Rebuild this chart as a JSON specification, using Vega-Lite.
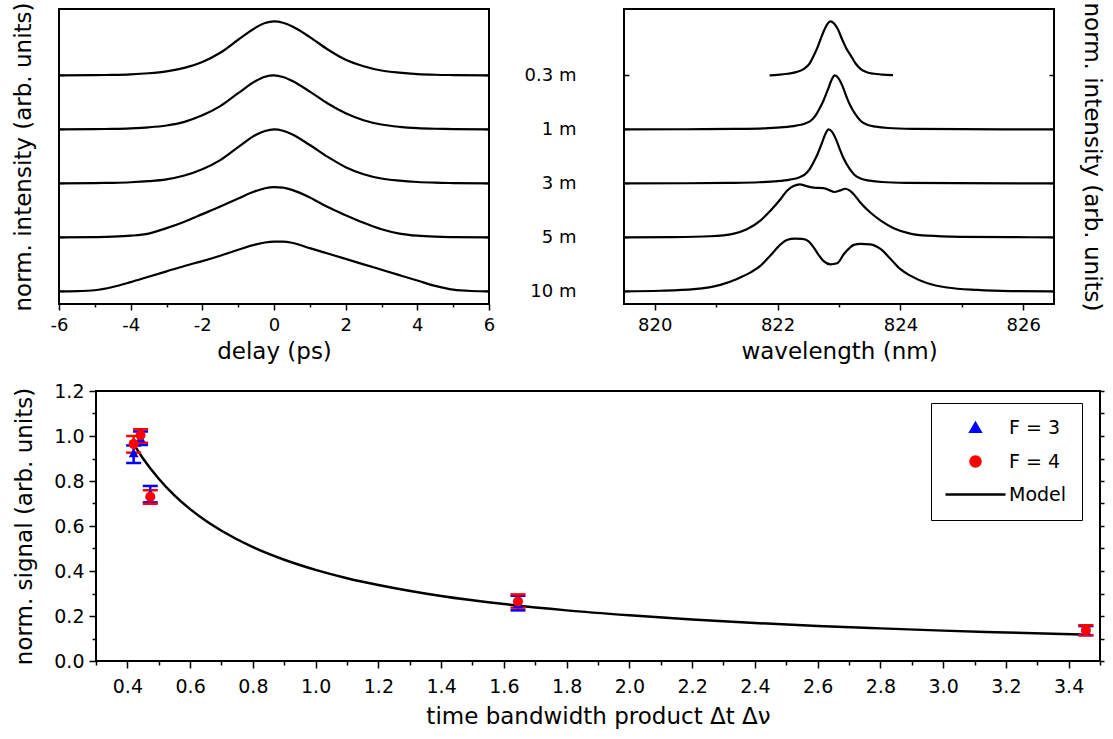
{
  "$schema": "https://vega.github.io/schema/vega-lite/v6.json",
  "padding": {"left": 11, "top": 0, "right": 0, "bottom": 0},
  "datasets": {
    "delay": [
      {"trace": "0.3 m", "t": -6, "y": 4}, {"trace": "0.3 m", "t": -5, "y": 4.005}, {"trace": "0.3 m", "t": -4.5, "y": 4.01}, {"trace": "0.3 m", "t": -4, "y": 4.02}, {"trace": "0.3 m", "t": -3.5, "y": 4.04}, {"trace": "0.3 m", "t": -3, "y": 4.075}, {"trace": "0.3 m", "t": -2.5, "y": 4.14}, {"trace": "0.3 m", "t": -2, "y": 4.25}, {"trace": "0.3 m", "t": -1.5, "y": 4.42}, {"trace": "0.3 m", "t": -1, "y": 4.66}, {"trace": "0.3 m", "t": -0.5, "y": 4.89}, {"trace": "0.3 m", "t": -0.25, "y": 4.97}, {"trace": "0.3 m", "t": 0, "y": 5.0}, {"trace": "0.3 m", "t": 0.25, "y": 4.975}, {"trace": "0.3 m", "t": 0.5, "y": 4.91}, {"trace": "0.3 m", "t": 1, "y": 4.71}, {"trace": "0.3 m", "t": 1.5, "y": 4.48}, {"trace": "0.3 m", "t": 2, "y": 4.29}, {"trace": "0.3 m", "t": 2.5, "y": 4.17}, {"trace": "0.3 m", "t": 3, "y": 4.09}, {"trace": "0.3 m", "t": 3.5, "y": 4.05}, {"trace": "0.3 m", "t": 4, "y": 4.025}, {"trace": "0.3 m", "t": 4.5, "y": 4.012}, {"trace": "0.3 m", "t": 5, "y": 4.006}, {"trace": "0.3 m", "t": 6, "y": 4},
      {"trace": "1 m", "t": -6, "y": 3}, {"trace": "1 m", "t": -5, "y": 3.005}, {"trace": "1 m", "t": -4.5, "y": 3.01}, {"trace": "1 m", "t": -4, "y": 3.02}, {"trace": "1 m", "t": -3.5, "y": 3.038}, {"trace": "1 m", "t": -3, "y": 3.072}, {"trace": "1 m", "t": -2.5, "y": 3.14}, {"trace": "1 m", "t": -2, "y": 3.26}, {"trace": "1 m", "t": -1.5, "y": 3.43}, {"trace": "1 m", "t": -1, "y": 3.67}, {"trace": "1 m", "t": -0.5, "y": 3.9}, {"trace": "1 m", "t": -0.25, "y": 3.975}, {"trace": "1 m", "t": 0, "y": 4.0}, {"trace": "1 m", "t": 0.25, "y": 3.97}, {"trace": "1 m", "t": 0.5, "y": 3.9}, {"trace": "1 m", "t": 1, "y": 3.7}, {"trace": "1 m", "t": 1.5, "y": 3.48}, {"trace": "1 m", "t": 2, "y": 3.3}, {"trace": "1 m", "t": 2.5, "y": 3.17}, {"trace": "1 m", "t": 3, "y": 3.09}, {"trace": "1 m", "t": 3.5, "y": 3.048}, {"trace": "1 m", "t": 4, "y": 3.024}, {"trace": "1 m", "t": 4.5, "y": 3.012}, {"trace": "1 m", "t": 5, "y": 3.006}, {"trace": "1 m", "t": 6, "y": 3},
      {"trace": "3 m", "t": -6, "y": 2}, {"trace": "3 m", "t": -5, "y": 2.005}, {"trace": "3 m", "t": -4.5, "y": 2.01}, {"trace": "3 m", "t": -4, "y": 2.02}, {"trace": "3 m", "t": -3.5, "y": 2.04}, {"trace": "3 m", "t": -3, "y": 2.075}, {"trace": "3 m", "t": -2.5, "y": 2.145}, {"trace": "3 m", "t": -2, "y": 2.26}, {"trace": "3 m", "t": -1.5, "y": 2.43}, {"trace": "3 m", "t": -1, "y": 2.67}, {"trace": "3 m", "t": -0.5, "y": 2.9}, {"trace": "3 m", "t": -0.25, "y": 2.97}, {"trace": "3 m", "t": 0, "y": 3.0}, {"trace": "3 m", "t": 0.25, "y": 2.975}, {"trace": "3 m", "t": 0.5, "y": 2.91}, {"trace": "3 m", "t": 1, "y": 2.71}, {"trace": "3 m", "t": 1.5, "y": 2.49}, {"trace": "3 m", "t": 2, "y": 2.3}, {"trace": "3 m", "t": 2.5, "y": 2.17}, {"trace": "3 m", "t": 3, "y": 2.09}, {"trace": "3 m", "t": 3.5, "y": 2.05}, {"trace": "3 m", "t": 4, "y": 2.025}, {"trace": "3 m", "t": 4.5, "y": 2.012}, {"trace": "3 m", "t": 5, "y": 2.006}, {"trace": "3 m", "t": 6, "y": 2},
      {"trace": "5 m", "t": -6, "y": 1}, {"trace": "5 m", "t": -5, "y": 1.005}, {"trace": "5 m", "t": -4.5, "y": 1.012}, {"trace": "5 m", "t": -4, "y": 1.03}, {"trace": "5 m", "t": -3.5, "y": 1.07}, {"trace": "5 m", "t": -3, "y": 1.17}, {"trace": "5 m", "t": -2.5, "y": 1.29}, {"trace": "5 m", "t": -2, "y": 1.43}, {"trace": "5 m", "t": -1.5, "y": 1.57}, {"trace": "5 m", "t": -1, "y": 1.72}, {"trace": "5 m", "t": -0.5, "y": 1.86}, {"trace": "5 m", "t": -0.25, "y": 1.91}, {"trace": "5 m", "t": 0, "y": 1.93}, {"trace": "5 m", "t": 0.25, "y": 1.92}, {"trace": "5 m", "t": 0.5, "y": 1.88}, {"trace": "5 m", "t": 1, "y": 1.74}, {"trace": "5 m", "t": 1.5, "y": 1.56}, {"trace": "5 m", "t": 2, "y": 1.41}, {"trace": "5 m", "t": 2.5, "y": 1.27}, {"trace": "5 m", "t": 3, "y": 1.15}, {"trace": "5 m", "t": 3.5, "y": 1.07}, {"trace": "5 m", "t": 4, "y": 1.03}, {"trace": "5 m", "t": 4.5, "y": 1.012}, {"trace": "5 m", "t": 5, "y": 1.005}, {"trace": "5 m", "t": 6, "y": 1},
      {"trace": "10 m", "t": -6, "y": 0}, {"trace": "10 m", "t": -5.5, "y": 0.004}, {"trace": "10 m", "t": -5, "y": 0.02}, {"trace": "10 m", "t": -4.5, "y": 0.08}, {"trace": "10 m", "t": -4, "y": 0.17}, {"trace": "10 m", "t": -3.5, "y": 0.27}, {"trace": "10 m", "t": -3, "y": 0.37}, {"trace": "10 m", "t": -2.5, "y": 0.47}, {"trace": "10 m", "t": -2, "y": 0.56}, {"trace": "10 m", "t": -1.5, "y": 0.66}, {"trace": "10 m", "t": -1, "y": 0.77}, {"trace": "10 m", "t": -0.5, "y": 0.87}, {"trace": "10 m", "t": -0.25, "y": 0.905}, {"trace": "10 m", "t": 0, "y": 0.92}, {"trace": "10 m", "t": 0.25, "y": 0.92}, {"trace": "10 m", "t": 0.5, "y": 0.9}, {"trace": "10 m", "t": 1, "y": 0.8}, {"trace": "10 m", "t": 1.5, "y": 0.7}, {"trace": "10 m", "t": 2, "y": 0.6}, {"trace": "10 m", "t": 2.5, "y": 0.5}, {"trace": "10 m", "t": 3, "y": 0.4}, {"trace": "10 m", "t": 3.5, "y": 0.3}, {"trace": "10 m", "t": 4, "y": 0.2}, {"trace": "10 m", "t": 4.5, "y": 0.1}, {"trace": "10 m", "t": 5, "y": 0.03}, {"trace": "10 m", "t": 5.5, "y": 0.006}, {"trace": "10 m", "t": 6, "y": 0}
    ],
    "spectra": [
      {"trace": "0.3 m", "w": 821.87, "y": 4.0}, {"trace": "0.3 m", "w": 822.0, "y": 4.01}, {"trace": "0.3 m", "w": 822.16, "y": 4.03}, {"trace": "0.3 m", "w": 822.3, "y": 4.06}, {"trace": "0.3 m", "w": 822.43, "y": 4.12}, {"trace": "0.3 m", "w": 822.52, "y": 4.22}, {"trace": "0.3 m", "w": 822.59, "y": 4.37}, {"trace": "0.3 m", "w": 822.65, "y": 4.52}, {"trace": "0.3 m", "w": 822.7, "y": 4.67}, {"trace": "0.3 m", "w": 822.76, "y": 4.84}, {"trace": "0.3 m", "w": 822.81, "y": 4.95}, {"trace": "0.3 m", "w": 822.86, "y": 5.0}, {"trace": "0.3 m", "w": 822.92, "y": 4.96}, {"trace": "0.3 m", "w": 822.98, "y": 4.86}, {"trace": "0.3 m", "w": 823.05, "y": 4.67}, {"trace": "0.3 m", "w": 823.12, "y": 4.5}, {"trace": "0.3 m", "w": 823.19, "y": 4.37}, {"trace": "0.3 m", "w": 823.27, "y": 4.22}, {"trace": "0.3 m", "w": 823.35, "y": 4.12}, {"trace": "0.3 m", "w": 823.45, "y": 4.06}, {"trace": "0.3 m", "w": 823.57, "y": 4.03}, {"trace": "0.3 m", "w": 823.7, "y": 4.015}, {"trace": "0.3 m", "w": 823.88, "y": 4.005},
      {"trace": "1 m", "w": 819.5, "y": 3}, {"trace": "1 m", "w": 820.5, "y": 3.002}, {"trace": "1 m", "w": 821.3, "y": 3.008}, {"trace": "1 m", "w": 821.8, "y": 3.02}, {"trace": "1 m", "w": 822.1, "y": 3.04}, {"trace": "1 m", "w": 822.3, "y": 3.07}, {"trace": "1 m", "w": 822.45, "y": 3.11}, {"trace": "1 m", "w": 822.54, "y": 3.16}, {"trace": "1 m", "w": 822.62, "y": 3.26}, {"trace": "1 m", "w": 822.69, "y": 3.4}, {"trace": "1 m", "w": 822.75, "y": 3.54}, {"trace": "1 m", "w": 822.82, "y": 3.74}, {"trace": "1 m", "w": 822.88, "y": 3.92}, {"trace": "1 m", "w": 822.93, "y": 4.0}, {"trace": "1 m", "w": 822.99, "y": 3.95}, {"trace": "1 m", "w": 823.05, "y": 3.82}, {"trace": "1 m", "w": 823.11, "y": 3.64}, {"trace": "1 m", "w": 823.18, "y": 3.45}, {"trace": "1 m", "w": 823.26, "y": 3.29}, {"trace": "1 m", "w": 823.35, "y": 3.16}, {"trace": "1 m", "w": 823.45, "y": 3.09}, {"trace": "1 m", "w": 823.6, "y": 3.05}, {"trace": "1 m", "w": 823.8, "y": 3.025}, {"trace": "1 m", "w": 824.2, "y": 3.01}, {"trace": "1 m", "w": 825.0, "y": 3.003}, {"trace": "1 m", "w": 826.5, "y": 3},
      {"trace": "3 m", "w": 819.5, "y": 2}, {"trace": "3 m", "w": 820.5, "y": 2.002}, {"trace": "3 m", "w": 821.2, "y": 2.008}, {"trace": "3 m", "w": 821.7, "y": 2.02}, {"trace": "3 m", "w": 822.0, "y": 2.04}, {"trace": "3 m", "w": 822.2, "y": 2.07}, {"trace": "3 m", "w": 822.35, "y": 2.11}, {"trace": "3 m", "w": 822.44, "y": 2.16}, {"trace": "3 m", "w": 822.52, "y": 2.26}, {"trace": "3 m", "w": 822.59, "y": 2.4}, {"trace": "3 m", "w": 822.65, "y": 2.54}, {"trace": "3 m", "w": 822.72, "y": 2.74}, {"trace": "3 m", "w": 822.78, "y": 2.92}, {"trace": "3 m", "w": 822.83, "y": 3.0}, {"trace": "3 m", "w": 822.89, "y": 2.95}, {"trace": "3 m", "w": 822.95, "y": 2.82}, {"trace": "3 m", "w": 823.01, "y": 2.64}, {"trace": "3 m", "w": 823.08, "y": 2.45}, {"trace": "3 m", "w": 823.16, "y": 2.29}, {"trace": "3 m", "w": 823.25, "y": 2.16}, {"trace": "3 m", "w": 823.35, "y": 2.09}, {"trace": "3 m", "w": 823.5, "y": 2.05}, {"trace": "3 m", "w": 823.7, "y": 2.025}, {"trace": "3 m", "w": 824.1, "y": 2.01}, {"trace": "3 m", "w": 824.9, "y": 2.003}, {"trace": "3 m", "w": 826.5, "y": 2},
      {"trace": "5 m", "w": 819.5, "y": 1}, {"trace": "5 m", "w": 820.3, "y": 1.005}, {"trace": "5 m", "w": 820.9, "y": 1.02}, {"trace": "5 m", "w": 821.29, "y": 1.07}, {"trace": "5 m", "w": 821.5, "y": 1.15}, {"trace": "5 m", "w": 821.72, "y": 1.31}, {"trace": "5 m", "w": 821.88, "y": 1.49}, {"trace": "5 m", "w": 822.05, "y": 1.71}, {"trace": "5 m", "w": 822.15, "y": 1.86}, {"trace": "5 m", "w": 822.26, "y": 1.95}, {"trace": "5 m", "w": 822.36, "y": 1.98}, {"trace": "5 m", "w": 822.47, "y": 1.95}, {"trace": "5 m", "w": 822.59, "y": 1.92}, {"trace": "5 m", "w": 822.75, "y": 1.91}, {"trace": "5 m", "w": 822.85, "y": 1.87}, {"trace": "5 m", "w": 822.92, "y": 1.84}, {"trace": "5 m", "w": 823.02, "y": 1.87}, {"trace": "5 m", "w": 823.1, "y": 1.9}, {"trace": "5 m", "w": 823.17, "y": 1.87}, {"trace": "5 m", "w": 823.24, "y": 1.8}, {"trace": "5 m", "w": 823.35, "y": 1.64}, {"trace": "5 m", "w": 823.51, "y": 1.46}, {"trace": "5 m", "w": 823.68, "y": 1.31}, {"trace": "5 m", "w": 823.89, "y": 1.17}, {"trace": "5 m", "w": 824.16, "y": 1.07}, {"trace": "5 m", "w": 824.44, "y": 1.03}, {"trace": "5 m", "w": 824.98, "y": 1.01}, {"trace": "5 m", "w": 825.8, "y": 1.003}, {"trace": "5 m", "w": 826.5, "y": 1},
      {"trace": "10 m", "w": 819.5, "y": 0}, {"trace": "10 m", "w": 820.09, "y": 0.01}, {"trace": "10 m", "w": 820.64, "y": 0.04}, {"trace": "10 m", "w": 821.07, "y": 0.12}, {"trace": "10 m", "w": 821.34, "y": 0.23}, {"trace": "10 m", "w": 821.56, "y": 0.35}, {"trace": "10 m", "w": 821.72, "y": 0.47}, {"trace": "10 m", "w": 821.88, "y": 0.66}, {"trace": "10 m", "w": 822.05, "y": 0.87}, {"trace": "10 m", "w": 822.15, "y": 0.95}, {"trace": "10 m", "w": 822.28, "y": 0.975}, {"trace": "10 m", "w": 822.4, "y": 0.97}, {"trace": "10 m", "w": 822.5, "y": 0.93}, {"trace": "10 m", "w": 822.59, "y": 0.81}, {"trace": "10 m", "w": 822.67, "y": 0.67}, {"trace": "10 m", "w": 822.75, "y": 0.56}, {"trace": "10 m", "w": 822.86, "y": 0.5}, {"trace": "10 m", "w": 822.97, "y": 0.52}, {"trace": "10 m", "w": 823.08, "y": 0.69}, {"trace": "10 m", "w": 823.16, "y": 0.79}, {"trace": "10 m", "w": 823.24, "y": 0.86}, {"trace": "10 m", "w": 823.35, "y": 0.88}, {"trace": "10 m", "w": 823.51, "y": 0.87}, {"trace": "10 m", "w": 823.68, "y": 0.78}, {"trace": "10 m", "w": 823.84, "y": 0.6}, {"trace": "10 m", "w": 824.0, "y": 0.41}, {"trace": "10 m", "w": 824.16, "y": 0.29}, {"trace": "10 m", "w": 824.44, "y": 0.15}, {"trace": "10 m", "w": 824.76, "y": 0.07}, {"trace": "10 m", "w": 825.25, "y": 0.025}, {"trace": "10 m", "w": 825.8, "y": 0.005}, {"trace": "10 m", "w": 826.5, "y": 0}
    ],
    "model": [
      {"x": 0.42, "y": 0.964}, {"x": 0.45, "y": 0.9}, {"x": 0.5, "y": 0.81}, {"x": 0.55, "y": 0.736}, {"x": 0.6, "y": 0.675}, {"x": 0.65, "y": 0.623}, {"x": 0.7, "y": 0.579}, {"x": 0.8, "y": 0.506}, {"x": 0.9, "y": 0.45}, {"x": 1.0, "y": 0.405}, {"x": 1.1, "y": 0.368}, {"x": 1.2, "y": 0.338}, {"x": 1.4, "y": 0.289}, {"x": 1.6, "y": 0.253}, {"x": 1.8, "y": 0.225}, {"x": 2.0, "y": 0.203}, {"x": 2.2, "y": 0.184}, {"x": 2.4, "y": 0.169}, {"x": 2.6, "y": 0.156}, {"x": 2.8, "y": 0.145}, {"x": 3.0, "y": 0.135}, {"x": 3.2, "y": 0.127}, {"x": 3.44, "y": 0.118}
    ],
    "points": [
      {"series": "F = 3", "x": 0.42, "y": 0.925, "lo": 0.88, "hi": 0.958},
      {"series": "F = 3", "x": 0.442, "y": 0.99, "lo": 0.96, "hi": 1.02},
      {"series": "F = 3", "x": 0.473, "y": 0.745, "lo": 0.705, "hi": 0.778},
      {"series": "F = 3", "x": 1.645, "y": 0.255, "lo": 0.225, "hi": 0.29},
      {"series": "F = 3", "x": 3.455, "y": 0.135, "lo": 0.115, "hi": 0.155},
      {"series": "F = 4", "x": 0.42, "y": 0.965, "lo": 0.926, "hi": 1.0},
      {"series": "F = 4", "x": 0.442, "y": 1.003, "lo": 0.97, "hi": 1.03},
      {"series": "F = 4", "x": 0.473, "y": 0.73, "lo": 0.699, "hi": 0.759},
      {"series": "F = 4", "x": 1.645, "y": 0.265, "lo": 0.237, "hi": 0.296},
      {"series": "F = 4", "x": 3.455, "y": 0.136, "lo": 0.114, "hi": 0.159}
    ]
  },
  "vconcat": [
    {
      "hconcat": [
        {
          "width": 430,
          "height": 295,
          "data": {"name": "delay"},
          "encoding": {
            "x": {"field": "t", "type": "quantitative", "scale": {"domain": [-6, 6], "nice": false, "zero": false},
              "axis": {"title": "delay (ps)", "values": [-6, -5, -4, -3, -2, -1, 0, 1, 2, 3, 4, 5, 6],
                "labelExpr": "datum.value % 2 == 0 ? (datum.value < 0 ? '-' + abs(datum.value) : '' + datum.value) : ''",
                "tickSize": {"condition": {"test": "datum.value % 2 != 0", "value": 3}, "value": 6},
                "labelPadding": 6, "titlePadding": 6}}
          },
          "layer": [
            {
              "mark": {"type": "line", "color": "black", "strokeWidth": 2.2, "interpolate": "monotone"},
              "encoding": {
                "detail": {"field": "trace"},
                "y": {"field": "y", "type": "quantitative", "scale": {"domain": [-0.235, 5.23], "nice": false, "zero": false},
                  "axis": {"orient": "left", "title": "norm. intensity (arb. units)", "labels": false, "values": [0, 1, 2, 3, 4], "tickSize": -5, "titlePadding": 23}}
              }
            },
            {
              "mark": {"type": "line", "color": "black", "strokeOpacity": 0},
              "encoding": {
                "detail": {"field": "trace"},
                "y": {"field": "y", "type": "quantitative", "scale": {"domain": [-0.235, 5.23], "nice": false, "zero": false},
                  "axis": {"orient": "right", "title": null, "labels": false, "values": [0, 1, 2, 3, 4], "tickSize": -5}}
              }
            }
          ],
          "resolve": {"axis": {"y": "independent"}}
        },
        {
          "width": 430,
          "height": 295,
          "data": {"name": "spectra"},
          "encoding": {
            "x": {"field": "w", "type": "quantitative", "scale": {"domain": [819.5, 826.5], "nice": false, "zero": false},
              "axis": {"title": "wavelength (nm)", "values": [820, 821, 822, 823, 824, 825, 826],
                "labelExpr": "datum.value % 2 == 0 ? '' + datum.value : ''",
                "tickSize": {"condition": {"test": "datum.value % 2 != 0", "value": 3}, "value": 6},
                "labelPadding": 6, "titlePadding": 6}}
          },
          "layer": [
            {
              "mark": {"type": "line", "color": "black", "strokeWidth": 2.2, "interpolate": "monotone"},
              "encoding": {
                "detail": {"field": "trace"},
                "y": {"field": "y", "type": "quantitative", "scale": {"domain": [-0.235, 5.23], "nice": false, "zero": false},
                  "axis": {"orient": "left", "title": null, "values": [0, 1, 2, 3, 4],
                    "labelExpr": "['10 m', '5 m', '3 m', '1 m', '0.3 m'][datum.value]",
                    "labelFontSize": 18, "labelPadding": 53, "tickSize": -5}}
              }
            },
            {
              "mark": {"type": "line", "color": "black", "strokeOpacity": 0},
              "encoding": {
                "detail": {"field": "trace"},
                "y": {"field": "y", "type": "quantitative", "scale": {"domain": [-0.235, 5.23], "nice": false, "zero": false},
                  "axis": {"orient": "right", "title": "norm. intensity (arb. units)", "labels": false, "values": [0, 1, 2, 3, 4], "tickSize": -5, "titlePadding": 25}}
              }
            }
          ],
          "resolve": {"axis": {"y": "independent"}}
        }
      ],
      "spacing": 27
    },
    {
      "hconcat": [
        {
          "width": 1,
          "height": 270,
          "view": {"stroke": null},
          "data": {"values": [{"v": 0}]},
          "mark": {"type": "point", "opacity": 0}
        },
        {
          "width": 1004,
          "height": 270,
          "encoding": {
            "x": {"field": "x", "type": "quantitative", "scale": {"domain": [0.3, 3.5], "nice": false, "zero": false},
              "axis": {"title": "time bandwidth product Δt Δν",
                "values": [0.3, 0.4, 0.5, 0.6, 0.7, 0.8, 0.9, 1.0, 1.1, 1.2, 1.3, 1.4, 1.5, 1.6, 1.7, 1.8, 1.9, 2.0, 2.1, 2.2, 2.3, 2.4, 2.5, 2.6, 2.7, 2.8, 2.9, 3.0, 3.1, 3.2, 3.3, 3.4, 3.5],
                "labelExpr": "round(datum.value * 10) % 2 == 0 ? format(datum.value, '.1f') : ''",
                "tickSize": {"condition": {"test": "round(datum.value * 10) % 2 != 0", "value": 4}, "value": 7},
                "labelFontSize": 19, "labelPadding": 9, "titlePadding": 9}}
          },
          "layer": [
            {
              "data": {"name": "model"},
              "mark": {"type": "line", "color": "black", "strokeWidth": 2.5, "interpolate": "monotone"},
              "encoding": {
                "y": {"field": "y", "type": "quantitative", "scale": {"domain": [0, 1.2], "nice": false, "zero": false},
                  "axis": {"orient": "left", "title": "norm. signal (arb. units)",
                    "values": [0, 0.1, 0.2, 0.3, 0.4, 0.5, 0.6, 0.7, 0.8, 0.9, 1.0, 1.1, 1.2],
                    "labelExpr": "round(datum.value * 10) % 2 == 0 ? format(datum.value, '.1f') : ''",
                    "tickSize": {"condition": {"test": "round(datum.value * 10) % 2 != 0", "value": 4}, "value": 7},
                    "labelFontSize": 19, "labelPadding": 5, "titlePadding": 17}}
              }
            },
            {
              "data": {"name": "points"},
              "mark": {"type": "rule", "strokeWidth": 2.5},
              "encoding": {
                "y": {"field": "lo", "type": "quantitative", "scale": {"domain": [0, 1.2], "nice": false, "zero": false}, "axis": null},
                "y2": {"field": "hi"},
                "color": {"field": "series", "type": "nominal", "scale": {"domain": ["F = 3", "F = 4", "Model"], "range": ["#0000ff", "#ff0000", "#000000"]},
                  "legend": {"title": null, "orient": "none", "legendX": 835, "legendY": 12, "strokeColor": "black", "fillColor": "white", "padding": 15,
                    "labelFontSize": 19, "labelColor": "black", "symbolSize": 100, "symbolOffset": 20, "labelOffset": 24, "rowPadding": 13, "symbolStrokeWidth": 2.5,
                    "encode": {"symbols": {"update": {"size": {"signal": "datum.value === 'Model' ? 3600 : 100"}, "stroke": {"signal": "datum.value === 'Model' ? 'black' : 'transparent'"}, "strokeWidth": {"value": 2.5}}}}}}
              }
            },
            {
              "data": {"name": "points"},
              "mark": {"type": "tick", "orient": "horizontal", "size": 15, "thickness": 2.5, "opacity": 1},
              "encoding": {
                "y": {"field": "lo", "type": "quantitative", "scale": {"domain": [0, 1.2], "nice": false, "zero": false}, "axis": null},
                "color": {"field": "series", "type": "nominal", "scale": {"domain": ["F = 3", "F = 4", "Model"], "range": ["#0000ff", "#ff0000", "#000000"]},
                  "legend": {"title": null, "orient": "none", "legendX": 835, "legendY": 12, "strokeColor": "black", "fillColor": "white", "padding": 15,
                    "labelFontSize": 19, "labelColor": "black", "symbolSize": 100, "symbolOffset": 20, "labelOffset": 24, "rowPadding": 13, "symbolStrokeWidth": 2.5,
                    "encode": {"symbols": {"update": {"size": {"signal": "datum.value === 'Model' ? 3600 : 100"}, "stroke": {"signal": "datum.value === 'Model' ? 'black' : 'transparent'"}, "strokeWidth": {"value": 2.5}}}}}}
              }
            },
            {
              "data": {"name": "points"},
              "mark": {"type": "tick", "orient": "horizontal", "size": 15, "thickness": 2.5, "opacity": 1},
              "encoding": {
                "y": {"field": "hi", "type": "quantitative", "scale": {"domain": [0, 1.2], "nice": false, "zero": false}, "axis": null},
                "color": {"field": "series", "type": "nominal", "scale": {"domain": ["F = 3", "F = 4", "Model"], "range": ["#0000ff", "#ff0000", "#000000"]},
                  "legend": {"title": null, "orient": "none", "legendX": 835, "legendY": 12, "strokeColor": "black", "fillColor": "white", "padding": 15,
                    "labelFontSize": 19, "labelColor": "black", "symbolSize": 100, "symbolOffset": 20, "labelOffset": 24, "rowPadding": 13, "symbolStrokeWidth": 2.5,
                    "encode": {"symbols": {"update": {"size": {"signal": "datum.value === 'Model' ? 3600 : 100"}, "stroke": {"signal": "datum.value === 'Model' ? 'black' : 'transparent'"}, "strokeWidth": {"value": 2.5}}}}}}
              }
            },
            {
              "data": {"name": "points"},
              "mark": {"type": "point", "filled": true, "opacity": 1, "size": 100},
              "encoding": {
                "y": {"field": "y", "type": "quantitative", "scale": {"domain": [0, 1.2], "nice": false, "zero": false}, "axis": null},
                "color": {"field": "series", "type": "nominal", "scale": {"domain": ["F = 3", "F = 4", "Model"], "range": ["#0000ff", "#ff0000", "#000000"]},
                  "legend": {"title": null, "orient": "none", "legendX": 835, "legendY": 12, "strokeColor": "black", "fillColor": "white", "padding": 15,
                    "labelFontSize": 19, "labelColor": "black", "symbolSize": 100, "symbolOffset": 20, "labelOffset": 24, "rowPadding": 13, "symbolStrokeWidth": 2.5,
                    "encode": {"symbols": {"update": {"size": {"signal": "datum.value === 'Model' ? 3600 : 100"}, "stroke": {"signal": "datum.value === 'Model' ? 'black' : 'transparent'"}, "strokeWidth": {"value": 2.5}}}}}},
                "shape": {"field": "series", "type": "nominal", "scale": {"domain": ["F = 3", "F = 4", "Model"], "range": ["triangle-up", "circle", "stroke"]},
                  "legend": {"title": null, "orient": "none", "legendX": 835, "legendY": 12, "strokeColor": "black", "fillColor": "white", "padding": 15,
                    "labelFontSize": 19, "labelColor": "black", "symbolSize": 100, "symbolOffset": 20, "labelOffset": 24, "rowPadding": 13, "symbolStrokeWidth": 2.5,
                    "encode": {"symbols": {"update": {"size": {"signal": "datum.value === 'Model' ? 3600 : 100"}, "stroke": {"signal": "datum.value === 'Model' ? 'black' : 'transparent'"}, "strokeWidth": {"value": 2.5}}}}}}
              }
            },
            {
              "data": {"name": "model"},
              "mark": {"type": "line", "color": "black", "strokeOpacity": 0},
              "encoding": {
                "y": {"field": "y", "type": "quantitative", "scale": {"domain": [0, 1.2], "nice": false, "zero": false},
                  "axis": {"orient": "right", "title": null, "labels": false, "values": [0, 0.1, 0.2, 0.3, 0.4, 0.5, 0.6, 0.7, 0.8, 0.9, 1.0, 1.1, 1.2], "tickSize": 4}}
              }
            }
          ],
          "resolve": {"axis": {"y": "independent"}}
        }
      ],
      "spacing": -51,
      "resolve": {"legend": {"color": "independent", "shape": "independent"}}
    }
  ],
  "spacing": 17,
  "resolve": {"legend": {"color": "independent", "shape": "independent"}},
  "config": {
    "font": "DejaVu Sans",
    "view": {"stroke": "black", "strokeWidth": 2},
    "legend": {"labelFont": "DejaVu Sans"},
    "axis": {"domain": false, "grid": false, "labelFont": "DejaVu Sans", "titleFont": "DejaVu Sans", "labelFontSize": 18, "titleFontSize": 23, "titleFontWeight": "normal", "labelColor": "black", "titleColor": "black", "tickColor": "black", "tickWidth": 1.5, "labelFlush": false, "labelOverlap": false}
  }
}
